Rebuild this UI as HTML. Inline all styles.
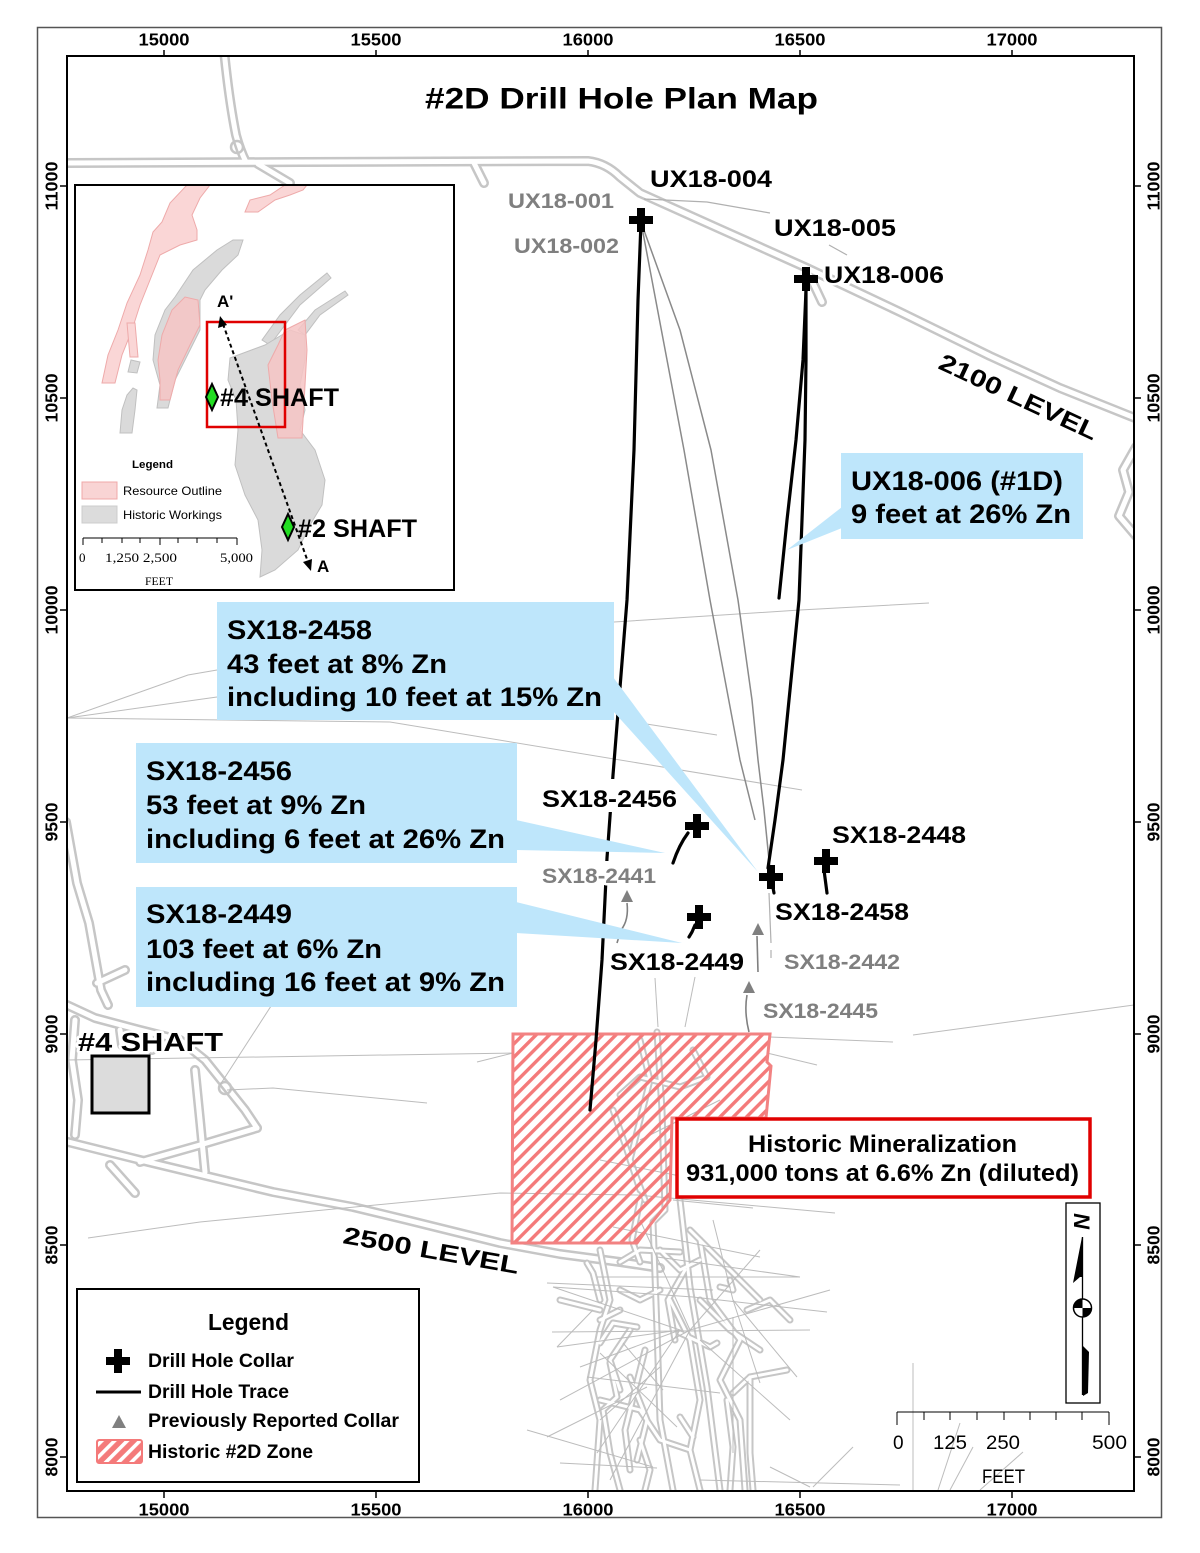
<!DOCTYPE html>
<html><head><meta charset="utf-8"><style>
html,body{margin:0;padding:0;background:#fff;}
svg{display:block;}
text{font-family:"Liberation Sans",Arial,sans-serif;}
.b{font-weight:bold;}
.halo{stroke:#fff;stroke-width:5;paint-order:stroke;stroke-linejoin:round;}
</style></head><body>
<svg width="1200" height="1553" viewBox="0 0 1200 1553" xmlns="http://www.w3.org/2000/svg">
<defs>
 <pattern id="hatch" patternUnits="userSpaceOnUse" width="9.4" height="20" patternTransform="rotate(45)"><rect x="0" y="0" width="3.4" height="20" fill="#f47a7a"/></pattern>
 <pattern id="hatch2" patternUnits="userSpaceOnUse" width="9" height="20" patternTransform="rotate(45)"><rect x="0" y="0" width="9" height="20" fill="#f47a7a"/><rect x="0" y="0" width="3.6" height="20" fill="#fff"/></pattern>
 <clipPath id="mapclip"><rect x="67" y="56" width="1067" height="1435"/></clipPath>
 <clipPath id="insetclip"><rect x="76" y="186" width="377" height="403"/></clipPath>
 <g id="tunA" fill="none">
  <path d="M60,163 L300,162 L588,161 Q606,163 620,177 L640,193 L720,229 L807,268 L900,312 L990,356 L1060,388 L1140,420"/>
  <path d="M224,50 Q229,100 236,135 Q240,150 246,162"/>
  <path d="M258,164 L290,183"/>
  <path d="M474,163 L484,183"/>
  <path d="M806,268 L822,302"/>
  <path d="M1136,447 L1123,470 L1129,492 L1119,516 L1136,536"/>
  <path d="M60,1140 L140,1160 L273,1192 L353,1207 L407,1220 L500,1243 L560,1254 L620,1262 L660,1268"/>
  <path d="M66,822 L77,883 L89,923 L101,990 L108,1005"/>
  <path d="M97,983 L125,970"/>
  <path d="M67,1005 L95,1018 L140,1030 L180,1040 L205,1060 L225,1085 L245,1110 L257,1128"/>
  <path d="M257,1128 L200,1145 L140,1162"/>
  <path d="M195,1070 L200,1120 L205,1172"/>
  <path d="M75,1020 L72,1060 L78,1100 L75,1135"/>
  <path d="M110,1165 L135,1193"/>
  <path d="M120,1030 L122,1045 M150,1035 L152,1050"/>
 </g>
 <g id="tunB" fill="none">
  <path d="M657,1032 L662,1110 L665,1210 L653,1222 L657,1330 L660,1420 L673,1490"/>
  <path d="M680,1200 L690,1287 L707,1387 L720,1490"/>
  <path d="M680,1333 L710,1347 L717,1343"/>
  <path d="M720,1287 L733,1290 L730,1280"/>
  <path d="M733,1393 L750,1377 L787,1370"/>
  <path d="M750,1377 L750,1453 L753,1490"/>
  <path d="M727,1400 L733,1447 L730,1490"/>
  <path d="M600,1320 L620,1310"/>
  <path d="M600,1343 L613,1323 L637,1327"/>
  <path d="M610,1363 L617,1397 L603,1410 L610,1453 L620,1490"/>
  <path d="M630,1377 L647,1420 L637,1460"/>
  <path d="M680,1417 L693,1437"/>
  <path d="M587,1263 L593,1273 L600,1300"/>
  <path d="M613,1110 L627,1150 L640,1190"/>
  <path d="M693,1050 L707,1077 L680,1087 L640,1077 L620,1095"/>
  <path d="M640,1200 L632,1240 L640,1262"/>
  <path d="M690,1230 L720,1260 L745,1285 L760,1300"/>
  <path d="M620,1262 L640,1250 L680,1252"/>
  <path d="M700,1300 L730,1330 L760,1350"/>
  <path d="M640,1440 L650,1470 L645,1490"/>
  <path d="M600,1250 L610,1300 L600,1330 L590,1380 L600,1420 L595,1490"/>
  <path d="M700,1240 L710,1300 L740,1340 L720,1380 L740,1420 L745,1490"/>
  <path d="M660,1250 L680,1270 L700,1260"/>
  <path d="M620,1290 L640,1300 L660,1290"/>
  <path d="M560,1300 L600,1310"/>
  <path d="M600,1400 L640,1410 L660,1440 L690,1450"/>
  <path d="M670,1300 L690,1340 L700,1400 L690,1450 L700,1490"/>
  <path d="M630,1330 L610,1360 L620,1390"/>
  <path d="M747,1310 L770,1300 L790,1320"/>
  <path d="M640,1040 L650,1080 L640,1120 L630,1160 L645,1200"/>
  <path d="M680,1150 L700,1130 L720,1140"/>
  <path d="M685,1270 L668,1300 L675,1340"/>
  <path d="M645,1350 L625,1430 L630,1470"/>
 </g>
</defs>

<rect x="0" y="0" width="1200" height="1553" fill="#fff"/>

<g clip-path="url(#mapclip)">
 <use href="#tunA" stroke="#c6c6c6" stroke-width="10" stroke-linejoin="round" stroke-linecap="round"/>
 <use href="#tunA" stroke="#fff" stroke-width="5" stroke-linejoin="round" stroke-linecap="round"/>
 <use href="#tunB" stroke="#c6c6c6" stroke-width="7" stroke-linejoin="round" stroke-linecap="round"/>
 <use href="#tunB" stroke="#fff" stroke-width="3" stroke-linejoin="round" stroke-linecap="round"/>
 <circle cx="225" cy="1088" r="6" fill="none" stroke="#c6c6c6" stroke-width="2.5"/>
 <circle cx="237" cy="147" r="6" fill="none" stroke="#c6c6c6" stroke-width="2.5"/>

 <g fill="none" stroke="#bcbcbc" stroke-width="1">
  <path d="M67,718 L188,675 L217,670"/>
  <path d="M67,718 L217,697"/>
  <path d="M67,718 L390,722 L802,790"/>
  <path d="M560,625 L614,622 L800,610 L929,603"/>
  <path d="M640,723 L717,735"/>
  <path d="M88,1238 L200,1222 L500,1193 L637,1195 L835,1213"/>
  <path d="M227,1090 L273,1088 L427,1103"/>
  <path d="M220,1085 L273,1003"/>
  <path d="M477,1062 L513,1053"/>
  <path d="M67,1060 L513,1053"/>
  <path d="M767,1053 L817,1065"/>
  <path d="M770,1037 L893,1042"/>
  <path d="M913,1035 L1134,1005"/>
  <path d="M655,978 L658,1027"/>
  <path d="M695,977 L685,1027"/>
  <path d="M673,1200 L753,1208"/>
  <path d="M547,1283 L713,1290"/>
  <path d="M597,1277 L800,1277"/>
  <path d="M553,1287 L693,1297 L827,1312"/>
  <path d="M552,1332 L810,1330"/>
  <path d="M557,1347 L680,1330 L580,1367"/>
  <path d="M597,1453 L680,1330"/>
  <path d="M547,1437 L647,1387"/>
  <path d="M527,1430 L653,1467"/>
  <path d="M560,1463 L657,1468"/>
  <path d="M600,1353 L677,1427"/>
  <path d="M587,1377 L720,1393"/>
  <path d="M613,1227 L760,1257"/>
  <path d="M657,1257 L800,1277"/>
  <path d="M713,1220 L733,1300 L797,1377"/>
  <path d="M733,1300 L760,1383"/>
  <path d="M733,1317 L733,1453"/>
  <path d="M593,1310 L557,1347"/>
  <path d="M770,1467 L810,1487"/>
  <path d="M813,1487 L853,1447"/>
  <path d="M600,1420 L660,1367"/>
  <path d="M623,1343 L663,1390"/>
  <path d="M913,1363 L913,1490"/>
  <path d="M960,1423 L938,1490"/>
  <path d="M973,1447 L950,1490"/>
  <path d="M1023,1452 L980,1490"/>
  <path d="M680,1330 L553,1287"/>
  <path d="M700,1480 L900,1485"/>
  <path d="M640,1140 L720,1100"/>
  <path d="M600,1160 L700,1180"/>
  <path d="M690,1330 L830,1290"/>
  <path d="M690,1330 L640,1220"/>
  <path d="M690,1330 L760,1250"/>
  <path d="M610,1480 L690,1330"/>
  <path d="M560,1400 L690,1330"/>
  <path d="M700,1340 L790,1420"/>
 </g>

 <polygon points="513,1034 770,1034 767,1062 771,1066 766,1118 672,1118 670,1200 650,1225 637,1243 512,1243" fill="url(#hatch)" stroke="#f28282" stroke-width="3"/>

 <g fill="none" stroke="#8a8a8a" stroke-width="1.5" stroke-linejoin="round">
  <path d="M641,222 L684,450 L710,600 L740,760 L755,820"/>
  <path d="M641,222 L680,330 L711,450 L738,600 L752,700 L758,760 L764,810 L770,870"/>
 </g>
 <g fill="none" stroke="#b0b0b0" stroke-width="1.2">
  <path d="M644,199 L707,202 L770,213"/>
  <path d="M829,245 L847,255"/>
  <path d="M769,893 L771,943"/>
  <path d="M771,950 L771,958"/>
 </g>

 <g fill="none" stroke="#808080" stroke-width="1.6">
  <path d="M627,903 Q629,920 621,930 L617,943"/>
  <path d="M757,936 L758,972"/>
  <path d="M747,995 Q744,1012 749,1032"/>
 </g>
 <g fill="#808080">
  <polygon points="627,890 621,902 633,902"/>
  <polygon points="758,923 752,935 764,935"/>
  <polygon points="749,981 743,993 755,993"/>
 </g>

 <g fill="none" stroke="#000" stroke-width="3.2" stroke-linejoin="round" stroke-linecap="round">
  <path d="M641,222 L638,300 L634,450 L627,600 L619,700 L613,775 L607,858 L602,960 L596,1040 L590,1110"/>
  <path d="M806,282 L806,360 L805,440 L799,600 L789,700 L783,760 L775,820 L768,868"/>
  <path d="M806,290 L803,360 L796,440 L787,520 L779,598"/>
  <path d="M688,833 Q679,845 673,863"/>
  <path d="M695,925 L692,932 L689,937"/>
  <path d="M770,872 L774,893"/>
  <path d="M824,870 L827,893"/>
 </g>
 <!-- gaps in trace under labels -->
 <rect x="603" y="779" width="18" height="33" fill="#fff"/>
 <rect x="599" y="861" width="16" height="24" fill="#fff"/>
</g>

<g fill="#bee6fb">
 <rect x="841" y="453" width="242" height="86"/>
 <polygon points="842,507 842,528 787,550"/>
 <rect x="217" y="602" width="397" height="118"/>
 <polygon points="613,677 613,711 758,872"/>
 <rect x="136" y="743" width="381" height="120"/>
 <polygon points="516,820 516,850 665,853"/>
 <rect x="136" y="887" width="381" height="120"/>
 <polygon points="516,902 516,933 682,943"/>
</g>
<g class="b" font-size="27" fill="#000">
 <text x="851" y="490" textLength="212" lengthAdjust="spacingAndGlyphs">UX18-006 (#1D)</text>
 <text x="851" y="523" textLength="220" lengthAdjust="spacingAndGlyphs">9 feet at 26% Zn</text>
 <text x="227" y="639" textLength="145" lengthAdjust="spacingAndGlyphs">SX18-2458</text>
 <text x="227" y="673" textLength="220" lengthAdjust="spacingAndGlyphs">43 feet at 8% Zn</text>
 <text x="227" y="706" textLength="375" lengthAdjust="spacingAndGlyphs">including 10 feet at 15% Zn</text>
 <text x="146" y="780" textLength="146" lengthAdjust="spacingAndGlyphs">SX18-2456</text>
 <text x="146" y="814" textLength="220" lengthAdjust="spacingAndGlyphs">53 feet at 9% Zn</text>
 <text x="146" y="848" textLength="359" lengthAdjust="spacingAndGlyphs">including 6 feet at 26% Zn</text>
 <text x="146" y="923" textLength="146" lengthAdjust="spacingAndGlyphs">SX18-2449</text>
 <text x="146" y="958" textLength="236" lengthAdjust="spacingAndGlyphs">103 feet at 6% Zn</text>
 <text x="146" y="991" textLength="359" lengthAdjust="spacingAndGlyphs">including 16 feet at 9% Zn</text>
</g>

<g fill="#000">
 <path d="M629,216h24v8h-24z M637,208h8v24h-8z"/>
 <path d="M794,275h24v8h-24z M802,267h8v24h-8z"/>
 <path d="M685,822h24v8h-24z M693,814h8v24h-8z"/>
 <path d="M687,913h24v8h-24z M695,905h8v24h-8z"/>
 <path d="M759,873h24v8h-24z M767,865h8v24h-8z"/>
 <path d="M814,857h24v8h-24z M822,849h8v24h-8z"/>
</g>

<g class="b halo" fill="#000" font-size="24">
 <text x="650" y="187" textLength="122" lengthAdjust="spacingAndGlyphs">UX18-004</text>
 <text x="774" y="236" textLength="122" lengthAdjust="spacingAndGlyphs">UX18-005</text>
 <text x="824" y="283" textLength="120" lengthAdjust="spacingAndGlyphs">UX18-006</text>
 <text x="542" y="807" textLength="135" lengthAdjust="spacingAndGlyphs">SX18-2456</text>
 <text x="832" y="843" textLength="134" lengthAdjust="spacingAndGlyphs">SX18-2448</text>
 <text x="775" y="920" textLength="134" lengthAdjust="spacingAndGlyphs">SX18-2458</text>
 <text x="610" y="970" textLength="134" lengthAdjust="spacingAndGlyphs">SX18-2449</text>
</g>
<g class="b halo" fill="#7f7f7f" font-size="21">
 <text x="508" y="208" textLength="106" lengthAdjust="spacingAndGlyphs">UX18-001</text>
 <text x="514" y="253" textLength="105" lengthAdjust="spacingAndGlyphs">UX18-002</text>
 <text x="542" y="883" textLength="114" lengthAdjust="spacingAndGlyphs">SX18-2441</text>
 <text x="784" y="969" textLength="116" lengthAdjust="spacingAndGlyphs">SX18-2442</text>
 <text x="763" y="1018" textLength="115" lengthAdjust="spacingAndGlyphs">SX18-2445</text>
</g>

<text class="b" font-size="24" transform="translate(937,368) rotate(25)" textLength="172" lengthAdjust="spacingAndGlyphs">2100 LEVEL</text>
<text class="b" font-size="24" transform="translate(342,1243) rotate(10)" textLength="178" lengthAdjust="spacingAndGlyphs">2500 LEVEL</text>

<text class="b halo" x="78" y="1051" font-size="26" textLength="145" lengthAdjust="spacingAndGlyphs">#4 SHAFT</text>
<rect x="92" y="1056" width="57" height="57" fill="#dcdcdc" stroke="#000" stroke-width="3"/>

<rect x="677" y="1119" width="413" height="78" fill="#fff" stroke="#e00000" stroke-width="3.5"/>
<text class="b" x="748" y="1152" font-size="24" textLength="269" lengthAdjust="spacingAndGlyphs">Historic Mineralization</text>
<text class="b" x="686" y="1181" font-size="24" textLength="393" lengthAdjust="spacingAndGlyphs">931,000 tons at 6.6% Zn (diluted)</text>

<rect x="75" y="185" width="379" height="405" fill="#fff" stroke="#000" stroke-width="2"/>
<g clip-path="url(#insetclip)">
 <g fill="#fad6d6" stroke="#eeaaaa" stroke-width="1">
  <polygon points="102,383 108,355 118,330 127,303 140,275 148,250 153,232 162,222 170,203 187,185 210,185 200,198 192,215 197,230 197,240 180,245 160,255 150,280 140,305 132,330 122,355 115,383"/>
  <polygon points="127,323 135,323 138,357 130,357"/>
  <polygon points="245,212 250,200 270,195 285,185 307,185 303,190 290,195 275,200 258,212"/>
 </g>
 <g fill="#dadada" stroke="#c0c0c0" stroke-width="1">
  <polygon points="120,433 122,410 127,395 133,388 137,390 135,410 132,433"/>
  <polygon points="128,372 131,360 140,362 137,373"/>
  <polygon points="157,408 160,385 153,360 155,335 165,310 175,297 193,270 217,250 233,240 243,240 238,255 222,270 205,290 200,300 200,330 190,350 175,380 168,408"/>
  <polygon points="327,273 331,278 300,305 285,325 270,345 262,340 280,315 300,295"/>
  <polygon points="345,291 348,295 320,315 305,335 298,330 315,310"/>
  <polygon points="230,358 265,345 290,330 305,335 305,360 300,385 305,410 300,430 315,450 325,480 322,505 310,525 298,550 275,570 260,577 262,550 258,520 245,495 235,465 238,430 236,400 228,380"/>
 </g>
 <g fill="#f6c4c4" fill-opacity="0.85" stroke="#eeaaaa" stroke-width="1">
  <polygon points="160,400 160,380 158,360 162,335 172,310 185,297 198,300 200,325 190,345 178,370 170,400"/>
  <polygon points="285,330 305,320 307,350 302,438 278,438 272,400 268,365 278,345"/>
 </g>
 <rect x="207" y="322" width="78" height="105" fill="none" stroke="#e00000" stroke-width="2.5"/>
 <line x1="223" y1="324" x2="308" y2="562" stroke="#000" stroke-width="2" stroke-dasharray="4,3"/>
 <polygon points="220,316 218,328 227,325" fill="#000"/>
 <polygon points="311,571 303,562 312,559" fill="#000"/>
 <polygon points="212,384 218,397 212,410 206,397" fill="#22dd22" stroke="#000" stroke-width="2"/>
 <polygon points="288,514 294,527 288,540 282,527" fill="#22dd22" stroke="#000" stroke-width="2"/>
 <text class="b" x="220" y="406" font-size="25" textLength="119" lengthAdjust="spacingAndGlyphs">#4 SHAFT</text>
 <text class="b" x="298" y="537" font-size="25" textLength="119" lengthAdjust="spacingAndGlyphs">#2 SHAFT</text>
 <text class="b" x="217" y="307" font-size="17">A'</text>
 <text class="b" x="317" y="572" font-size="17">A</text>
 <text class="b" x="132" y="468" font-size="11" textLength="41" lengthAdjust="spacingAndGlyphs">Legend</text>
 <rect x="82" y="482" width="35" height="17" fill="#f9d4d4" stroke="#f0a8a8"/>
 <rect x="82" y="506" width="35" height="17" fill="#dcdcdc" stroke="#cccccc"/>
 <text x="123" y="495" font-size="12" textLength="99" lengthAdjust="spacingAndGlyphs">Resource Outline</text>
 <text x="123" y="519" font-size="12" textLength="99" lengthAdjust="spacingAndGlyphs">Historic Workings</text>
 <g stroke="#000" stroke-width="1">
  <line x1="83" y1="538" x2="237" y2="538"/>
  <path d="M83,538v7 M102,538v5 M122,538v5 M140,538v5 M160,538v7 M178,538v5 M197,538v5 M217,538v5 M237,538v7"/>
 </g>
 <g font-size="13" fill="#000">
  <text x="79" y="562" style="font-family:'Liberation Serif',serif">0</text>
  <text x="105" y="562" textLength="72" lengthAdjust="spacingAndGlyphs" style="font-family:'Liberation Serif',serif">1,250 2,500</text>
  <text x="220" y="562" textLength="33" lengthAdjust="spacingAndGlyphs" style="font-family:'Liberation Serif',serif">5,000</text>
  <text x="145" y="585" font-size="12" textLength="28" lengthAdjust="spacingAndGlyphs" style="font-family:'Liberation Serif',serif">FEET</text>
 </g>
</g>

<rect x="77" y="1289" width="342" height="193" fill="#fff" stroke="#000" stroke-width="2"/>
<text class="b" x="208" y="1330" font-size="23" textLength="81" lengthAdjust="spacingAndGlyphs">Legend</text>
<path d="M106,1357h24v8h-24z M114,1349h8v24h-8z" fill="#000"/>
<line x1="96" y1="1392" x2="141" y2="1392" stroke="#000" stroke-width="3"/>
<polygon points="119,1415 112,1428 126,1428" fill="#808080"/>
<rect x="97" y="1440" width="45" height="23" rx="2" fill="url(#hatch2)" stroke="#f47a7a" stroke-width="2"/>
<g class="b" font-size="19" fill="#000">
 <text x="148" y="1367" textLength="146" lengthAdjust="spacingAndGlyphs">Drill Hole Collar</text>
 <text x="148" y="1398" textLength="141" lengthAdjust="spacingAndGlyphs">Drill Hole Trace</text>
 <text x="148" y="1427" textLength="251" lengthAdjust="spacingAndGlyphs">Previously Reported Collar</text>
 <text x="148" y="1458" textLength="165" lengthAdjust="spacingAndGlyphs">Historic #2D Zone</text>
</g>

<rect x="1066" y="1203" width="34" height="200" fill="#fff" stroke="#000" stroke-width="1.3"/>
<text class="b" font-size="22" font-style="italic" text-anchor="middle" transform="translate(1082,1221) rotate(90)" y="8">N</text>
<line x1="1082.5" y1="1237" x2="1082.5" y2="1395" stroke="#000" stroke-width="1.3"/>
<polygon points="1082,1237 1073,1283 1080,1277 1083,1277" fill="#000"/>
<polygon points="1082,1345 1089,1352 1088,1393 1083,1396" fill="#000"/>
<circle cx="1082.5" cy="1308" r="9" fill="#fff" stroke="#000" stroke-width="1.5"/>
<path d="M1082.5,1308 L1073.5,1308 A9,9 0 0 1 1082.5,1299 Z" fill="#000"/>
<path d="M1082.5,1308 L1091.5,1308 A9,9 0 0 1 1082.5,1317 Z" fill="#000"/>

<g stroke="#000" stroke-width="1">
 <line x1="897" y1="1412" x2="1109" y2="1412"/>
 <path d="M897,1412v13 M924,1412v8 M950,1412v8 M977,1412v8 M1004,1412v8 M1030,1412v8 M1056,1412v8 M1082,1412v8 M1109,1412v13"/>
</g>
<g font-size="19" fill="#000">
 <text x="893" y="1449">0</text>
 <text x="933" y="1449" textLength="34" lengthAdjust="spacingAndGlyphs">125</text>
 <text x="986" y="1449" textLength="34" lengthAdjust="spacingAndGlyphs">250</text>
 <text x="1092" y="1449" textLength="35" lengthAdjust="spacingAndGlyphs">500</text>
 <text x="982" y="1483" textLength="43" lengthAdjust="spacingAndGlyphs">FEET</text>
</g>

<text class="b" x="425" y="108.5" font-size="30" textLength="393" lengthAdjust="spacingAndGlyphs">#2D Drill Hole Plan Map</text>

<rect x="67" y="56" width="1067" height="1435" fill="none" stroke="#000" stroke-width="2"/>
<rect x="37.5" y="27.5" width="1124" height="1490" fill="none" stroke="#555" stroke-width="1.5"/>

<g stroke="#000" stroke-width="1.5">
 <path d="M164,50v6 M376,50v6 M588,50v6 M800,50v6 M1012,50v6"/>
 <path d="M164,1491v7 M376,1491v7 M588,1491v7 M800,1491v7 M1012,1491v7"/>
 <path d="M60,186h7 M60,398h7 M60,610h7 M60,822h7 M60,1034h7 M60,1245h7 M60,1457h7"/>
 <path d="M1134,186h7 M1134,398h7 M1134,610h7 M1134,822h7 M1134,1034h7 M1134,1245h7 M1134,1457h7"/>
</g>
<g class="b" font-size="17.5" fill="#000" text-anchor="middle">
 <text x="164" y="45.5" textLength="51" lengthAdjust="spacingAndGlyphs">15000</text>
 <text x="376" y="45.5" textLength="51" lengthAdjust="spacingAndGlyphs">15500</text>
 <text x="588" y="45.5" textLength="51" lengthAdjust="spacingAndGlyphs">16000</text>
 <text x="800" y="45.5" textLength="51" lengthAdjust="spacingAndGlyphs">16500</text>
 <text x="1012" y="45.5" textLength="51" lengthAdjust="spacingAndGlyphs">17000</text>
 <text x="164" y="1515.5" textLength="51" lengthAdjust="spacingAndGlyphs">15000</text>
 <text x="376" y="1515.5" textLength="51" lengthAdjust="spacingAndGlyphs">15500</text>
 <text x="588" y="1515.5" textLength="51" lengthAdjust="spacingAndGlyphs">16000</text>
 <text x="800" y="1515.5" textLength="51" lengthAdjust="spacingAndGlyphs">16500</text>
 <text x="1012" y="1515.5" textLength="51" lengthAdjust="spacingAndGlyphs">17000</text>
 <text transform="translate(57.5,186) rotate(-90)" textLength="49" lengthAdjust="spacingAndGlyphs">11000</text>
 <text transform="translate(57.5,398) rotate(-90)" textLength="49" lengthAdjust="spacingAndGlyphs">10500</text>
 <text transform="translate(57.5,610) rotate(-90)" textLength="49" lengthAdjust="spacingAndGlyphs">10000</text>
 <text transform="translate(57.5,822) rotate(-90)" textLength="39" lengthAdjust="spacingAndGlyphs">9500</text>
 <text transform="translate(57.5,1034) rotate(-90)" textLength="39" lengthAdjust="spacingAndGlyphs">9000</text>
 <text transform="translate(57.5,1245) rotate(-90)" textLength="39" lengthAdjust="spacingAndGlyphs">8500</text>
 <text transform="translate(57.5,1457) rotate(-90)" textLength="39" lengthAdjust="spacingAndGlyphs">8000</text>
 <text transform="translate(1159.5,186) rotate(-90)" textLength="49" lengthAdjust="spacingAndGlyphs">11000</text>
 <text transform="translate(1159.5,398) rotate(-90)" textLength="49" lengthAdjust="spacingAndGlyphs">10500</text>
 <text transform="translate(1159.5,610) rotate(-90)" textLength="49" lengthAdjust="spacingAndGlyphs">10000</text>
 <text transform="translate(1159.5,822) rotate(-90)" textLength="39" lengthAdjust="spacingAndGlyphs">9500</text>
 <text transform="translate(1159.5,1034) rotate(-90)" textLength="39" lengthAdjust="spacingAndGlyphs">9000</text>
 <text transform="translate(1159.5,1245) rotate(-90)" textLength="39" lengthAdjust="spacingAndGlyphs">8500</text>
 <text transform="translate(1159.5,1457) rotate(-90)" textLength="39" lengthAdjust="spacingAndGlyphs">8000</text>
</g>
</svg>
</body></html>
